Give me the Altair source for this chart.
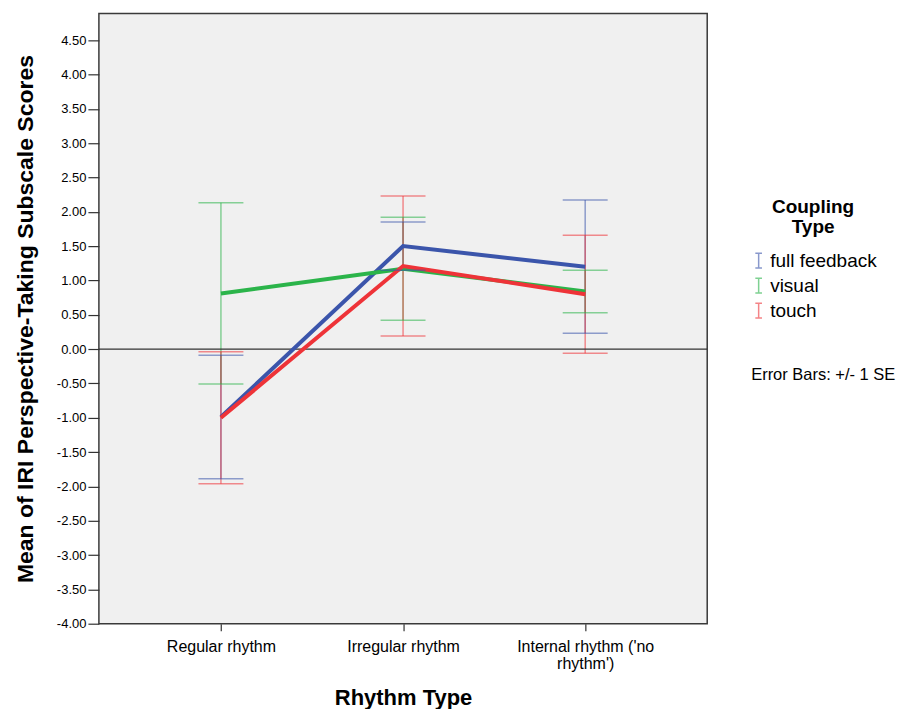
import altair as alt
import pandas as pd

categories = ["Regular rhythm", "Irregular rhythm", "Internal rhythm ('no rhythm')"]
groups = ["full feedback", "visual", "touch"]
colors = ["#3b55ab", "#2bb44a", "#ee3338"]

full_mean = [-0.99, 1.50, 1.20]
full_se = [0.90, 0.35, 0.97]
visual_mean = [0.81, 1.17, 0.84]
visual_se = [1.32, 0.75, 0.31]
touch_mean = [-1.00, 1.21, 0.80]
touch_se = [0.96, 1.02, 0.86]

y_ticks = [-4.0, -3.5, -3.0, -2.5, -2.0, -1.5, -1.0, -0.5, 0.0, 0.5,
           1.0, 1.5, 2.0, 2.5, 3.0, 3.5, 4.0, 4.5]
note = "Error Bars: +/- 1 SE"

rows = []
for g, means, ses in zip(groups, [full_mean, visual_mean, touch_mean],
                         [full_se, visual_se, touch_se]):
    for c, m, s in zip(categories, means, ses):
        rows.append({"rhythm": c, "coupling": g, "mean": m,
                     "lo": m - s, "hi": m + s})
df = pd.DataFrame(rows)

FONT = "Liberation Sans"

x_enc = alt.X("rhythm:N", sort=categories, scale=alt.Scale(type="point", padding=0.67),
              axis=alt.Axis(
                  title="Rhythm Type",
                  labelExpr='datum.value == "Internal rhythm (\'no rhythm\')" ? ["Internal rhythm (\'no", "rhythm\')"] : datum.value',
                  labelAngle=0, labelFontSize=16, labelFont=FONT, labelColor="#000",
                  labelPadding=8, tickSize=7, tickColor="#333", tickWidth=1.2,
                  domain=False, titleFontSize=22, titleFont=FONT, titleFontWeight="bold",
                  titleColor="#000", titlePadding=16, labelLineHeight=17))
y_scale = alt.Scale(domain=[-4.0, 4.89], nice=False, zero=False)
y_axis = alt.Axis(title="Mean of IRI Perspective-Taking Subscale Scores",
                  values=y_ticks, format=".2f",
                  labelExpr="replace(format(datum.value, '.2f'), '\u2212', '-')",
                  labelFontSize=13, labelFont=FONT,
                  labelColor="#000", tickSize=11, tickColor="#333", tickWidth=1.2,
                  labelPadding=2, domain=False, grid=False, titleFontSize=23,
                  titleFont=FONT, titleFontWeight="bold", titleColor="#000",
                  titlePadding=19)
color_scale = alt.Scale(domain=groups, range=colors)

legend = alt.Legend(
    title=["Coupling", "Type"], orient="none",
    legendX=651, legendY=185,
    titleFont=FONT, titleFontSize=19, titleFontWeight="bold",
    titleColor="#000", titleAlign="center", titleAnchor="middle",
    titleLineHeight=20, titlePadding=14,
    labelFont=FONT, labelFontSize=19, labelColor="#000",
    symbolType="M-0.45,-1H0.45M0,-1V1M-0.45,1H0.45",
    symbolSize=220, symbolStrokeWidth=1.5, symbolOpacity=0.6,
    rowPadding=4, labelOffset=2)

color_enc = alt.Color("coupling:N", scale=color_scale, sort=groups, legend=legend)

base = alt.Chart(df)

zero = alt.Chart(pd.DataFrame({"z": [0.0]})).mark_rule(color="#333", strokeWidth=1.2).encode(
    y=alt.Y("z:Q", scale=y_scale, axis=y_axis))

bars = base.mark_rule(strokeWidth=1.5, opacity=0.55).encode(
    x=x_enc,
    y=alt.Y("lo:Q", scale=y_scale, axis=y_axis),
    y2="hi:Q",
    color=color_enc)

lines = base.mark_line(strokeWidth=4).encode(
    x=x_enc,
    y=alt.Y("mean:Q", scale=y_scale, axis=y_axis),
    color=color_enc,
    order=alt.Order("rhythm:N"))

caps_lo = base.mark_tick(size=45, thickness=1.5, opacity=0.55).encode(
    x=x_enc,
    y=alt.Y("lo:Q", scale=y_scale, axis=y_axis),
    color=color_enc)
caps_hi = base.mark_tick(size=45, thickness=1.5, opacity=0.55).encode(
    x=x_enc,
    y=alt.Y("hi:Q", scale=y_scale, axis=y_axis),
    color=color_enc)

note_layer = alt.Chart(pd.DataFrame({"t": [note]})).mark_text(
    align="left", baseline="middle", font=FONT, fontSize=16.5, color="#000").encode(
    text="t:N", x=alt.value(653), y=alt.value(362))

chart = alt.layer(bars, zero, lines, caps_lo, caps_hi, note_layer).properties(
    width=609, height=611,
    autosize=alt.AutoSizeParams(type="none"),
    padding={"left": 91, "top": 5, "right": 190, "bottom": 85},
).configure_view(fill="#f0f0f0", stroke="#3a3a3a", strokeWidth=1.5)

chart.save("out.html", embed_options={"renderer": "svg", "actions": False})
